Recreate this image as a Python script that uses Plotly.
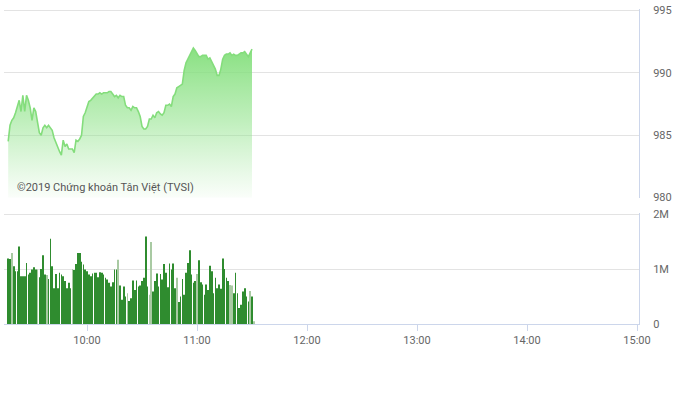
import pandas as pd
import plotly.graph_objects as go

# ---- data ----
session_date = "2019-01-02"
price_start = "09:17"
price = [
    984.5, 985.8, 986.2, 986.4, 986.8, 987.3, 987.8, 986.9, 988.2, 986.9,
    988.2, 987.8, 987.2, 986.2, 987.2, 986.9, 986.1, 985.2, 985.0, 985.6,
    985.8, 985.6, 985.8, 985.6, 985.4, 984.8, 984.4, 984.0, 983.7, 983.4,
    984.6, 984.1, 984.3, 983.9, 983.9, 983.9, 983.6, 984.6, 984.5, 984.7,
    985.0, 986.5, 986.8, 987.3, 987.7, 987.8, 988.0, 988.2, 988.3, 988.3,
    988.4, 988.3, 988.4, 988.4, 988.4, 988.5, 988.5, 988.3, 988.1, 988.2,
    988.0, 988.2, 988.1, 988.1, 987.4, 987.2, 987.2, 987.0, 987.3, 987.2,
    987.2, 986.9, 986.5, 985.7, 985.5, 985.5, 985.7, 986.3, 986.3, 986.6,
    986.4, 986.8, 986.9, 986.7, 986.6, 986.8, 987.4, 987.4, 987.5, 987.3,
    988.1, 988.3, 988.8, 988.9, 989.0, 989.1, 990.2, 990.8, 991.1, 991.4,
    991.7, 992.0, 991.8, 991.5, 991.3, 991.3, 991.4, 991.4, 991.4, 991.1,
    991.2, 990.9, 990.6, 990.3, 989.8, 989.8, 990.3, 991.1, 991.4, 991.5,
    991.5, 991.6, 991.4, 991.5, 991.4, 991.4, 991.5, 991.6, 991.6, 991.7,
    991.5, 991.3, 991.6, 991.9,
]
volume_start = "09:17"
volume_m = [
    1.19, 1.18, 1.29, 1.05, 0.96, 0.96, 1.41, 0.87, 0.87, 0.87,
    1.11, 0.90, 0.93, 0.99, 1.03, 0.99, 0.99, 0.85, 1.00, 1.25,
    0.90, 0.89, 0.82, 1.55, 1.05, 0.65, 0.91, 0.65, 0.93, 0.90,
    0.87, 0.78, 0.65, 0.75, 0.65, 1.00, 0.98, 1.09, 1.29, 1.29,
    1.13, 1.08, 0.99, 0.96, 0.90, 0.87, 0.92, 0.93, 0.93, 0.85,
    0.94, 0.93, 0.90, 0.84, 0.81, 0.75, 0.68, 0.76, 0.99, 0.99,
    1.17, 0.70, 0.44, 0.68, 0.50, 0.56, 0.42, 0.47,
    0.79, 0.62, 0.79, 0.68, 0.70, 0.78, 0.84, 1.59, 0.68, 0.53,
    1.49, 0.59, 0.78, 0.92, 0.68, 0.91, 0.81, 1.09, 0.93, 0.67,
    1.10, 0.99, 1.10, 0.65, 0.84, 0.40, 0.50, 0.82, 0.53, 0.93,
    1.11, 1.34, 0.90, 0.75, 0.78, 0.91, 1.16, 0.76, 0.72, 0.53,
    0.72, 0.62, 1.06, 0.96, 0.56, 0.84, 0.65, 0.72, 0.64, 1.19,
    1.00, 0.84, 0.78, 0.71, 0.70, 0.56, 0.93, 0.56, 0.29, 0.35,
    0.59, 0.65, 0.50, 0.41, 0.60, 0.50, 0.05,
]
light_bar_idx = [2, 16, 21, 35, 60, 65, 77, 78, 92, 103, 121, 122, 132, 134]
price_ticks = [980, 985, 990, 995]
vol_ticks = [0, 1_000_000, 2_000_000]
vol_tick_labels = ["0", "1M", "2M"]
watermark = "©2019 Chứng khoán Tân Việt (TVSI)"
x_start = "09:14:43"
x_end = "15:01:05"

# ---- build ----
price_t = pd.date_range(f"{session_date} {price_start}", periods=len(price), freq="min")
vol_t = pd.date_range(f"{session_date} {volume_start}", periods=len(volume_m), freq="min")
vol = [v * 1_000_000 for v in volume_m]
dark, light = "#2f8c2f", "#a9caa3"
bar_colors = [light if i in light_bar_idx else dark for i in range(len(vol))]

fig = go.Figure()
fig.add_trace(go.Scatter(
    x=price_t, y=price, mode="lines",
    line=dict(color="#84dd7c", width=1.6),
    fill="tozeroy",
    fillgradient=dict(type="vertical", start=980, stop=992.2,
                      colorscale=[[0, "rgba(150,228,145,0.05)"],
                                  [0.5, "rgba(140,226,134,0.55)"],
                                  [1, "rgba(128,222,120,0.95)"]]),
    xaxis="x", yaxis="y", hoverinfo="skip", showlegend=False,
))
fig.add_trace(go.Bar(
    x=vol_t, y=vol, marker=dict(color=bar_colors, line=dict(width=0)),
    xaxis="x2", yaxis="y2", showlegend=False, hoverinfo="skip",
))

rng = [f"{session_date} {x_start}", f"{session_date} {x_end}"]
grid = "#e3e3e3"
edge = "#ccd6eb"
tickfont = dict(family="Roboto", size=11, color="#666666")

fig.update_layout(
    width=700, height=400,
    margin=dict(l=4, r=61, t=9, b=76),
    paper_bgcolor="white", plot_bgcolor="white",
    bargap=0.62,
    xaxis=dict(domain=[0, 1], range=rng, type="date", showticklabels=False,
               showgrid=False, zeroline=False, anchor="y"),
    yaxis=dict(domain=[0.4013, 1], range=[980, 995.12], tickvals=price_ticks,
               side="right", showgrid=True, gridcolor=grid, gridwidth=1,
               zeroline=False, showline=True, linecolor=edge, linewidth=1,
               ticks="outside", ticklen=11, tickcolor="rgba(0,0,0,0)",
               tickfont=tickfont, anchor="x"),
    xaxis2=dict(domain=[0, 1], range=rng, type="date", anchor="y2",
                tickformat="%H:%M", dtick=3600000, tick0=f"{session_date} 10:00",
                showgrid=False, zeroline=False, showline=True, linecolor=edge,
                ticks="outside", ticklen=6, tickcolor=edge, tickfont=tickfont),
    yaxis2=dict(domain=[0, 0.3535], range=[0, 2_025_000], tickvals=vol_ticks,
                ticktext=vol_tick_labels, side="right", showgrid=True,
                gridcolor=grid, zeroline=False, showline=True, linecolor=edge,
                ticks="outside", ticklen=11, tickcolor="rgba(0,0,0,0)",
                tickfont=tickfont, anchor="x2"),
    annotations=[dict(text=watermark, xref="paper", yref="paper",
                      x=0.017, y=0.405, xanchor="left", yanchor="bottom",
                      showarrow=False,
                      font=dict(family="Roboto", size=11, color="#555555"))],
)

fig.write_html("out.html", config={"displayModeBar": False},
               post_script="document.body.style.margin='0';")
